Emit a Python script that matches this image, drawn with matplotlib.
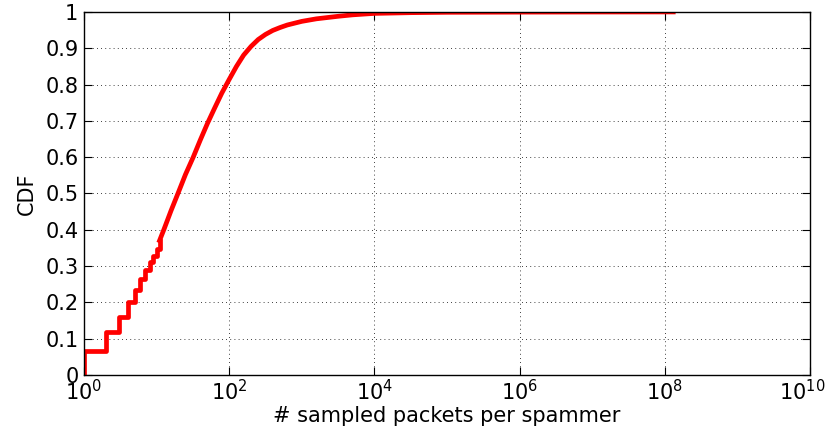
import numpy as np
import matplotlib
matplotlib.use("Agg")
import matplotlib.pyplot as plt
import matplotlib.transforms as mtransforms

plt.rcParams['font.family'] = ['DejaVu Sans']
plt.rcParams['mathtext.fontset'] = 'dejavusans'
plt.rcParams['mathtext.default'] = 'regular'

# discrete part of the CDF (step function at small packet counts)
step_packets = [1, 2, 3, 4, 5, 6, 7, 8, 9, 10, 11]
step_cdf = [0.067, 0.117, 0.16, 0.2, 0.233, 0.263, 0.288, 0.31, 0.328, 0.347, 0.37]

# smooth tail of the CDF
tail_packets = [11, 12.6, 15.8, 20, 25, 32, 40, 50, 63, 79, 100, 126, 158, 200, 251,
                316, 398, 501, 631, 1000, 1585, 3162, 5012, 1e4, 3.2e4, 1e5, 1e6, 1e7, 1.3e8]
tail_cdf = [0.37, 0.40, 0.452, 0.503, 0.552, 0.60, 0.647, 0.692, 0.735, 0.776, 0.814,
            0.85, 0.881, 0.905, 0.924, 0.938, 0.949, 0.957, 0.964, 0.974, 0.981, 0.988,
            0.992, 0.996, 0.998, 0.999, 0.9995, 0.9998, 1.0]

xticks = [1, 1e2, 1e4, 1e6, 1e8, 1e10]
yticks = [0, 0.1, 0.2, 0.3, 0.4, 0.5, 0.6, 0.7, 0.8, 0.9, 1]
yticklabels = ['0', '0.1', '0.2', '0.3', '0.4', '0.5', '0.6', '0.7', '0.8', '0.9', '1']

fig = plt.figure(figsize=(8.31, 4.42), dpi=100)
ax = fig.add_axes([0.101, 0.152, 0.874, 0.821])

ax.step([1] + step_packets, [0] + step_cdf, where='post', color='red', lw=3.4)
ax.plot(tail_packets, tail_cdf, color='red', lw=3.4, solid_joinstyle='round')

ax.set_xscale('log')
ax.set_xlim(1, 1e10)
ax.set_ylim(0, 1)
ax.set_xticks(xticks)
ax.set_xticklabels(['$10^{%d}$' % int(np.log10(t)) for t in xticks])
ax.minorticks_off()
ax.set_yticks(yticks)
ax.set_yticklabels(yticklabels)

ax.grid(True, color='black', linestyle=(0, (1, 4)), linewidth=0.6)
ax.tick_params(direction='in', top=True, right=True, length=6, labelsize=15)
ax.tick_params(axis='x', pad=3)
ax.tick_params(axis='y', pad=4)
for s in ax.spines.values():
    s.set_linewidth(1.0)

# keep the last x label inside the figure
last = ax.get_xticklabels()[-1]
last.set_transform(last.get_transform() + mtransforms.ScaledTranslation(-6 / 72, 0, fig.dpi_scale_trans))

ax.set_xlabel('# sampled packets per spammer', fontsize=15, labelpad=1)
ax.set_ylabel('CDF', fontsize=15, labelpad=6)

fig.savefig('out.png', dpi=100)
